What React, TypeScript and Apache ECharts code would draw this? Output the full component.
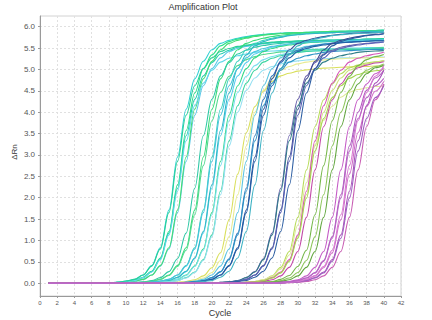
import React, { useEffect, useRef } from "react";
import * as echarts from "echarts";

// PCR cycle numbers (x values of every well)
const cycles = [
  1, 2, 3, 4, 5, 6, 7, 8, 9, 10, 11, 12, 13, 14, 15, 16, 17, 18, 19, 20,
  21, 22, 23, 24, 25, 26, 27, 28, 29, 30, 31, 32, 33, 34, 35, 36, 37, 38, 39, 40,
];

const yTickValues = [0, 0.5, 1, 1.5, 2, 2.5, 3, 3.5, 4, 4.5, 5, 5.5, 6];

// ΔRn per cycle, one array per well
const a1 = [0, 0, 0, 0, 0, 0, 0, 0.01, 0.02, 0.05, 0.09, 0.19, 0.41, 0.83, 1.71, 2.95, 4.07, 4.78, 5.19, 5.46, 5.61, 5.68, 5.73, 5.77, 5.80, 5.82, 5.84, 5.85, 5.86, 5.86, 5.87, 5.88, 5.88, 5.89, 5.89, 5.90, 5.90, 5.91, 5.91, 5.92];
const a2 = [0, 0, 0, 0, 0, 0, 0, 0, 0.02, 0.04, 0.06, 0.14, 0.28, 0.59, 1.21, 2.30, 3.57, 4.45, 5.02, 5.34, 5.55, 5.65, 5.71, 5.75, 5.79, 5.81, 5.83, 5.84, 5.85, 5.86, 5.87, 5.87, 5.88, 5.89, 5.89, 5.90, 5.90, 5.91, 5.91, 5.92];
const a3 = [0, 0, 0, 0, 0, 0, 0, 0, 0.01, 0.02, 0.05, 0.09, 0.19, 0.40, 0.80, 1.65, 2.85, 3.93, 4.62, 5.02, 5.27, 5.42, 5.49, 5.54, 5.57, 5.60, 5.62, 5.64, 5.65, 5.66, 5.67, 5.67, 5.68, 5.68, 5.69, 5.69, 5.70, 5.70, 5.71, 5.71];
const a4 = [0, 0, 0, 0, 0, 0, 0, 0, 0.02, 0.03, 0.06, 0.13, 0.27, 0.57, 1.17, 2.22, 3.45, 4.30, 4.85, 5.16, 5.36, 5.45, 5.52, 5.56, 5.59, 5.61, 5.63, 5.64, 5.65, 5.66, 5.67, 5.67, 5.68, 5.68, 5.69, 5.70, 5.70, 5.71, 5.71, 5.72];
const a5 = [0, 0, 0, 0, 0, 0, 0, 0, 0.01, 0.02, 0.05, 0.09, 0.19, 0.41, 0.83, 1.71, 2.95, 4.07, 4.78, 5.19, 5.46, 5.61, 5.68, 5.73, 5.77, 5.80, 5.82, 5.84, 5.85, 5.86, 5.86, 5.87, 5.88, 5.88, 5.89, 5.89, 5.90, 5.90, 5.91, 5.91];
const a6 = [0, 0, 0, 0, 0, 0, 0, 0, 0.02, 0.03, 0.06, 0.13, 0.26, 0.55, 1.13, 2.15, 3.33, 4.15, 4.68, 4.98, 5.17, 5.26, 5.32, 5.36, 5.40, 5.42, 5.43, 5.44, 5.45, 5.46, 5.47, 5.47, 5.48, 5.48, 5.49, 5.50, 5.50, 5.51, 5.51, 5.52];
const a7 = [0, 0, 0, 0, 0, 0, 0, 0.01, 0.02, 0.05, 0.09, 0.19, 0.40, 0.80, 1.65, 2.85, 3.93, 4.62, 5.02, 5.27, 5.42, 5.49, 5.54, 5.57, 5.60, 5.62, 5.64, 5.65, 5.66, 5.67, 5.67, 5.68, 5.68, 5.69, 5.69, 5.70, 5.70, 5.71, 5.71, 5.72];

const b1 = [0, 0, 0, 0, 0, 0, 0, 0, 0, 0, 0.01, 0.02, 0.05, 0.09, 0.19, 0.41, 0.83, 1.71, 2.95, 4.07, 4.78, 5.19, 5.46, 5.61, 5.68, 5.73, 5.77, 5.80, 5.82, 5.84, 5.85, 5.86, 5.86, 5.87, 5.88, 5.88, 5.89, 5.89, 5.90, 5.91];
const b2 = [0, 0, 0, 0, 0, 0, 0, 0, 0, 0, 0.02, 0.03, 0.06, 0.13, 0.27, 0.57, 1.17, 2.22, 3.45, 4.30, 4.85, 5.16, 5.36, 5.45, 5.52, 5.56, 5.59, 5.61, 5.63, 5.64, 5.65, 5.66, 5.67, 5.67, 5.68, 5.68, 5.69, 5.70, 5.70, 5.71];
const b3 = [0, 0, 0, 0, 0, 0, 0, 0, 0, 0, 0.01, 0.02, 0.04, 0.09, 0.18, 0.39, 0.77, 1.60, 2.75, 3.80, 4.46, 4.84, 5.09, 5.23, 5.30, 5.35, 5.38, 5.41, 5.42, 5.44, 5.45, 5.46, 5.47, 5.47, 5.48, 5.48, 5.49, 5.49, 5.50, 5.51];

const c1 = [0, 0, 0, 0, 0, 0, 0, 0, 0, 0, 0, 0.01, 0.02, 0.05, 0.09, 0.19, 0.41, 0.83, 1.71, 2.95, 4.07, 4.78, 5.19, 5.46, 5.61, 5.68, 5.73, 5.77, 5.80, 5.82, 5.84, 5.85, 5.86, 5.86, 5.87, 5.88, 5.88, 5.89, 5.89, 5.90];
const c2 = [0, 0, 0, 0, 0, 0, 0, 0, 0, 0, 0, 0, 0.02, 0.03, 0.06, 0.13, 0.27, 0.57, 1.17, 2.22, 3.45, 4.30, 4.85, 5.16, 5.36, 5.45, 5.52, 5.56, 5.59, 5.61, 5.63, 5.64, 5.65, 5.66, 5.67, 5.67, 5.68, 5.68, 5.69, 5.70];
const c3 = [0, 0, 0, 0, 0, 0, 0, 0, 0, 0, 0, 0, 0.01, 0.02, 0.05, 0.09, 0.19, 0.40, 0.80, 1.65, 2.85, 3.93, 4.62, 5.02, 5.27, 5.42, 5.49, 5.54, 5.57, 5.60, 5.62, 5.64, 5.65, 5.66, 5.67, 5.67, 5.68, 5.68, 5.69, 5.69];
const c4 = [0, 0, 0, 0, 0, 0, 0, 0, 0, 0, 0, 0, 0.02, 0.04, 0.06, 0.14, 0.28, 0.59, 1.21, 2.30, 3.57, 4.45, 5.02, 5.34, 5.55, 5.65, 5.71, 5.75, 5.79, 5.81, 5.83, 5.84, 5.85, 5.86, 5.87, 5.87, 5.88, 5.89, 5.89, 5.90];
const c5 = [0, 0, 0, 0, 0, 0, 0, 0, 0, 0, 0, 0, 0.01, 0.02, 0.04, 0.09, 0.18, 0.39, 0.77, 1.60, 2.75, 3.80, 4.46, 4.84, 5.09, 5.23, 5.30, 5.35, 5.38, 5.41, 5.42, 5.44, 5.45, 5.46, 5.47, 5.47, 5.48, 5.48, 5.49, 5.49];
const c6 = [0, 0, 0, 0, 0, 0, 0, 0, 0, 0, 0, 0, 0, 0.02, 0.03, 0.06, 0.13, 0.26, 0.55, 1.13, 2.15, 3.33, 4.15, 4.68, 4.98, 5.17, 5.26, 5.32, 5.36, 5.40, 5.42, 5.43, 5.44, 5.45, 5.46, 5.47, 5.47, 5.48, 5.48, 5.49];
const c7 = [0, 0, 0, 0, 0, 0, 0, 0, 0, 0, 0, 0.01, 0.02, 0.05, 0.09, 0.19, 0.40, 0.80, 1.65, 2.85, 3.93, 4.62, 5.02, 5.27, 5.42, 5.49, 5.54, 5.57, 5.60, 5.62, 5.64, 5.65, 5.66, 5.67, 5.67, 5.68, 5.68, 5.69, 5.69, 5.70];
const c8 = [0, 0, 0, 0, 0, 0, 0, 0, 0, 0, 0, 0, 0, 0.02, 0.03, 0.06, 0.12, 0.25, 0.53, 1.09, 2.07, 3.21, 4.00, 4.51, 4.80, 4.98, 5.07, 5.13, 5.17, 5.20, 5.22, 5.24, 5.25, 5.26, 5.27, 5.27, 5.28, 5.28, 5.29, 5.29];

const d1 = [0, 0, 0, 0, 0, 0, 0, 0, 0, 0, 0, 0, 0, 0, 0.01, 0.02, 0.04, 0.08, 0.17, 0.36, 0.71, 1.48, 2.55, 3.52, 4.13, 4.49, 4.72, 4.85, 4.91, 4.96, 4.99, 5.01, 5.03, 5.04, 5.05, 5.06, 5.07, 5.07, 5.08, 5.08];
const d2 = [0, 0, 0, 0, 0, 0, 0, 0, 0, 0, 0, 0, 0, 0, 0, 0.02, 0.03, 0.06, 0.12, 0.25, 0.53, 1.09, 2.07, 3.21, 4.00, 4.51, 4.80, 4.98, 5.07, 5.13, 5.17, 5.20, 5.22, 5.24, 5.25, 5.26, 5.27, 5.27, 5.28, 5.28];
const d3 = [0, 0, 0, 0, 0, 0, 0, 0, 0, 0, 0, 0, 0, 0, 0, 0.01, 0.02, 0.05, 0.09, 0.19, 0.40, 0.80, 1.65, 2.85, 3.93, 4.62, 5.02, 5.27, 5.42, 5.49, 5.54, 5.57, 5.60, 5.62, 5.64, 5.65, 5.66, 5.67, 5.67, 5.68];
const d4 = [0, 0, 0, 0, 0, 0, 0, 0, 0, 0, 0, 0, 0, 0, 0, 0, 0.02, 0.03, 0.06, 0.13, 0.27, 0.57, 1.17, 2.22, 3.45, 4.30, 4.85, 5.16, 5.36, 5.45, 5.52, 5.56, 5.59, 5.61, 5.63, 5.64, 5.65, 5.66, 5.67, 5.67];
const d5 = [0, 0, 0, 0, 0, 0, 0, 0, 0, 0, 0, 0, 0, 0, 0, 0, 0.01, 0.02, 0.05, 0.09, 0.19, 0.41, 0.83, 1.71, 2.95, 4.07, 4.78, 5.19, 5.46, 5.61, 5.68, 5.73, 5.77, 5.80, 5.82, 5.84, 5.85, 5.86, 5.86, 5.87];
const d6 = [0, 0, 0, 0, 0, 0, 0, 0, 0, 0, 0, 0, 0, 0, 0, 0, 0.02, 0.03, 0.06, 0.13, 0.26, 0.55, 1.13, 2.15, 3.33, 4.15, 4.68, 4.98, 5.17, 5.26, 5.32, 5.36, 5.40, 5.42, 5.43, 5.44, 5.45, 5.46, 5.47, 5.47];
const d7 = [0, 0, 0, 0, 0, 0, 0, 0, 0, 0, 0, 0, 0, 0, 0, 0, 0.01, 0.02, 0.05, 0.09, 0.19, 0.40, 0.80, 1.65, 2.85, 3.93, 4.62, 5.02, 5.27, 5.42, 5.49, 5.54, 5.57, 5.60, 5.62, 5.64, 5.65, 5.66, 5.67, 5.67];
const d8 = [0, 0, 0, 0, 0, 0, 0, 0, 0, 0, 0, 0, 0, 0, 0, 0, 0, 0.02, 0.04, 0.06, 0.14, 0.28, 0.59, 1.21, 2.30, 3.57, 4.45, 5.02, 5.34, 5.55, 5.65, 5.71, 5.75, 5.79, 5.81, 5.83, 5.84, 5.85, 5.86, 5.87];

const e1 = [0, 0, 0, 0, 0, 0, 0, 0, 0, 0, 0, 0, 0, 0, 0, 0, 0, 0, 0, 0, 0.02, 0.03, 0.06, 0.13, 0.27, 0.57, 1.17, 2.22, 3.45, 4.30, 4.85, 5.16, 5.36, 5.45, 5.52, 5.56, 5.59, 5.61, 5.63, 5.64];
const e2 = [0, 0, 0, 0, 0, 0, 0, 0, 0, 0, 0, 0, 0, 0, 0, 0, 0, 0, 0, 0, 0.01, 0.02, 0.05, 0.09, 0.19, 0.41, 0.83, 1.71, 2.95, 4.07, 4.78, 5.19, 5.46, 5.61, 5.68, 5.73, 5.77, 5.80, 5.82, 5.84];
const e3 = [0, 0, 0, 0, 0, 0, 0, 0, 0, 0, 0, 0, 0, 0, 0, 0, 0, 0, 0, 0, 0.02, 0.03, 0.06, 0.13, 0.26, 0.55, 1.13, 2.15, 3.33, 4.15, 4.68, 4.98, 5.17, 5.26, 5.32, 5.36, 5.40, 5.42, 5.43, 5.44];
const e4 = [0, 0, 0, 0, 0, 0, 0, 0, 0, 0, 0, 0, 0, 0, 0, 0, 0, 0, 0, 0, 0.01, 0.02, 0.05, 0.09, 0.19, 0.40, 0.80, 1.65, 2.85, 3.93, 4.62, 5.02, 5.27, 5.42, 5.49, 5.54, 5.57, 5.60, 5.62, 5.64];
const e5 = [0, 0, 0, 0, 0, 0, 0, 0, 0, 0, 0, 0, 0, 0, 0, 0, 0, 0, 0, 0, 0, 0.02, 0.04, 0.06, 0.14, 0.28, 0.59, 1.21, 2.30, 3.57, 4.45, 5.02, 5.34, 5.55, 5.65, 5.71, 5.75, 5.79, 5.81, 5.83];

const f1 = [0, 0, 0, 0, 0, 0, 0, 0, 0, 0, 0, 0, 0, 0, 0, 0, 0, 0, 0, 0, 0, 0, 0.01, 0.02, 0.04, 0.08, 0.17, 0.37, 0.74, 1.54, 2.65, 3.66, 4.29, 4.66, 4.90, 5.04, 5.10, 5.15, 5.18, 5.21];
const f2 = [0, 0, 0, 0, 0, 0, 0, 0, 0, 0, 0, 0, 0, 0, 0, 0, 0, 0, 0, 0, 0, 0, 0, 0.02, 0.03, 0.06, 0.12, 0.25, 0.53, 1.09, 2.07, 3.21, 4.00, 4.51, 4.80, 4.98, 5.07, 5.13, 5.17, 5.20];
const f3 = [0, 0, 0, 0, 0, 0, 0, 0, 0, 0, 0, 0, 0, 0, 0, 0, 0, 0, 0, 0, 0, 0, 0.01, 0.02, 0.04, 0.08, 0.16, 0.33, 0.66, 1.36, 2.35, 3.24, 3.81, 4.14, 4.35, 4.47, 4.53, 4.57, 4.60, 4.62];
const f4 = [0, 0, 0, 0, 0, 0, 0, 0, 0, 0, 0, 0, 0, 0, 0, 0, 0, 0, 0, 0, 0, 0, 0, 0.02, 0.03, 0.06, 0.13, 0.26, 0.55, 1.13, 2.15, 3.33, 4.15, 4.68, 4.98, 5.17, 5.26, 5.32, 5.36, 5.40];
const f5 = [0, 0, 0, 0, 0, 0, 0, 0, 0, 0, 0, 0, 0, 0, 0, 0, 0, 0, 0, 0, 0, 0, 0, 0.01, 0.02, 0.04, 0.08, 0.17, 0.37, 0.74, 1.54, 2.65, 3.66, 4.29, 4.66, 4.90, 5.04, 5.10, 5.15, 5.18];
const f6 = [0, 0, 0, 0, 0, 0, 0, 0, 0, 0, 0, 0, 0, 0, 0, 0, 0, 0, 0, 0, 0, 0, 0, 0.02, 0.03, 0.06, 0.12, 0.24, 0.51, 1.05, 1.99, 3.09, 3.85, 4.34, 4.62, 4.79, 4.88, 4.94, 4.97, 5.00];

const g1 = [0, 0, 0, 0, 0, 0, 0, 0, 0, 0, 0, 0, 0, 0, 0, 0, 0, 0, 0, 0, 0, 0, 0, 0, 0.01, 0.02, 0.04, 0.09, 0.18, 0.39, 0.77, 1.60, 2.75, 3.80, 4.46, 4.84, 5.09, 5.23, 5.30, 5.35];
const g2 = [0, 0, 0, 0, 0, 0, 0, 0, 0, 0, 0, 0, 0, 0, 0, 0, 0, 0, 0, 0, 0, 0, 0, 0, 0, 0.02, 0.03, 0.06, 0.12, 0.25, 0.53, 1.09, 2.07, 3.21, 4.00, 4.51, 4.80, 4.98, 5.07, 5.13];
const g3 = [0, 0, 0, 0, 0, 0, 0, 0, 0, 0, 0, 0, 0, 0, 0, 0, 0, 0, 0, 0, 0, 0, 0, 0, 0, 0.01, 0.02, 0.04, 0.08, 0.17, 0.37, 0.74, 1.54, 2.65, 3.66, 4.29, 4.66, 4.90, 5.04, 5.10];

const h1 = [0, 0, 0, 0, 0, 0, 0, 0, 0, 0, 0, 0, 0, 0, 0, 0, 0, 0, 0, 0, 0, 0, 0, 0, 0, 0, 0.01, 0.02, 0.04, 0.08, 0.17, 0.37, 0.74, 1.54, 2.65, 3.66, 4.29, 4.66, 4.90, 5.04];
const h2 = [0, 0, 0, 0, 0, 0, 0, 0, 0, 0, 0, 0, 0, 0, 0, 0, 0, 0, 0, 0, 0, 0, 0, 0, 0, 0, 0, 0.02, 0.03, 0.06, 0.12, 0.25, 0.53, 1.09, 2.07, 3.21, 4.00, 4.51, 4.80, 4.98];
const h3 = [0, 0, 0, 0, 0, 0, 0, 0, 0, 0, 0, 0, 0, 0, 0, 0, 0, 0, 0, 0, 0, 0, 0, 0, 0, 0, 0, 0.01, 0.02, 0.04, 0.08, 0.17, 0.36, 0.71, 1.48, 2.55, 3.52, 4.13, 4.49, 4.72];
const h4 = [0, 0, 0, 0, 0, 0, 0, 0, 0, 0, 0, 0, 0, 0, 0, 0, 0, 0, 0, 0, 0, 0, 0, 0, 0, 0, 0, 0, 0.02, 0.03, 0.06, 0.13, 0.26, 0.55, 1.13, 2.15, 3.33, 4.15, 4.68, 4.98];
const h5 = [0, 0, 0, 0, 0, 0, 0, 0, 0, 0, 0, 0, 0, 0, 0, 0, 0, 0, 0, 0, 0, 0, 0, 0, 0, 0, 0, 0, 0.01, 0.02, 0.04, 0.08, 0.17, 0.37, 0.74, 1.54, 2.65, 3.66, 4.29, 4.66];
const h6 = [0, 0, 0, 0, 0, 0, 0, 0, 0, 0, 0, 0, 0, 0, 0, 0, 0, 0, 0, 0, 0, 0, 0, 0, 0, 0, 0, 0, 0.02, 0.03, 0.06, 0.12, 0.24, 0.51, 1.05, 1.99, 3.09, 3.85, 4.34, 4.62];
const h7 = [0, 0, 0, 0, 0, 0, 0, 0, 0, 0, 0, 0, 0, 0, 0, 0, 0, 0, 0, 0, 0, 0, 0, 0, 0, 0, 0, 0.01, 0.02, 0.04, 0.09, 0.18, 0.39, 0.77, 1.60, 2.75, 3.80, 4.46, 4.84, 5.09];
const h8 = [0, 0, 0, 0, 0, 0, 0, 0, 0, 0, 0, 0, 0, 0, 0, 0, 0, 0, 0, 0, 0, 0, 0, 0, 0, 0, 0, 0.02, 0.03, 0.06, 0.12, 0.24, 0.51, 1.05, 1.99, 3.09, 3.85, 4.34, 4.62, 4.79];

const wellNames = [
  "A1", "A2", "A3", "A4", "A5", "A6", "A7",
  "B1", "B2", "B3",
  "C1", "C2", "C3", "C4", "C5", "C6", "C7", "C8",
  "D1", "D2", "D3", "D4", "D5", "D6", "D7", "D8",
  "E1", "E2", "E3", "E4", "E5",
  "F1", "F2", "F3", "F4", "F5", "F6",
  "G1", "G2", "G3",
  "H1", "H2", "H3", "H4", "H5", "H6", "H7", "H8",
];

const wellValues = [
  a1, a2, a3, a4, a5, a6, a7,
  b1, b2, b3,
  c1, c2, c3, c4, c5, c6, c7, c8,
  d1, d2, d3, d4, d5, d6, d7, d8,
  e1, e2, e3, e4, e5,
  f1, f2, f3, f4, f5, f6,
  g1, g2, g3,
  h1, h2, h3, h4, h5, h6, h7, h8,
];

const wellColors = [
  "#33d0d4", "#2ee08a", "#5cc8e8", "#24ccb0", "#44dc74", "#62d8ea", "#28d098",
  "#36dc78", "#30c8a6", "#52d890",
  "#3cd0c0", "#58cdee", "#32d886", "#2eb8c4", "#7adfee", "#3cd4a0", "#48c4de", "#96e0f2",
  "#d9df5c", "#e8eb92", "#5cc4e0", "#2f78bb", "#34509a", "#2c93c6", "#1e5fa6", "#3fb3c4",
  "#6b62ad", "#3c4a90", "#2f7d88", "#5a62b8", "#2d5ea2",
  "#b7dc5a", "#cde37a", "#dfe89a", "#d556b8", "#c24aa8", "#a6d54e",
  "#76b84a", "#8ec65c", "#62a63f",
  "#c55dc7", "#b15abf", "#d06ec9", "#a955b9", "#c95fb4", "#9f5fc2", "#d77ad2", "#b866c6",
];

const FONT = "'Liberation Sans', Arial, sans-serif";

export default function App() {
  const ref = useRef<HTMLDivElement>(null);

  useEffect(() => {
    if (!ref.current) return;
    const chart = echarts.init(ref.current, undefined, { renderer: "svg" });

    const series = wellValues.map((vals, i) => ({
      name: wellNames[i],
      type: "line",
      data: vals.map((v, j) => [cycles[j], v]),
      symbol: "none",
      showSymbol: false,
      smooth: 0.35,
      smoothMonotone: "x",
      silent: true,
      lineStyle: { color: wellColors[i], width: 1.1 },
      itemStyle: { color: wellColors[i] },
    }));

    chart.setOption({
      animation: false,
      backgroundColor: "#ffffff",
      textStyle: { fontFamily: FONT },
      grid: {
        left: 40,
        right: 31,
        top: 16,
        bottom: 24,
        show: true,
        borderColor: "#d2d2d2",
        borderWidth: 1,
        backgroundColor: "transparent",
      },
      xAxis: {
        type: "value",
        min: 0,
        max: 42,
        interval: 2,
        axisLine: { show: true, onZero: false, lineStyle: { color: "#9a9a9a", width: 1 } },
        axisTick: { show: true, length: 2, lineStyle: { color: "#9a9a9a" } },
        axisLabel: { fontSize: 6, color: "#555", margin: 4, fontFamily: FONT },
        splitLine: { show: true, lineStyle: { color: "#e0e0e0", type: [2, 2], width: 1 } },
      },
      yAxis: {
        type: "value",
        min: -0.3,
        max: 6.25,
        axisLine: { show: true, onZero: false, lineStyle: { color: "#9a9a9a", width: 1 } },
        axisTick: { show: true, length: 2, customValues: yTickValues, lineStyle: { color: "#9a9a9a" } },
        axisLabel: {
          customValues: yTickValues,
          formatter: (v: number) => v.toFixed(1),
          fontSize: 8,
          color: "#555",
          margin: 5,
          fontFamily: FONT,
        },
        splitLine: { show: true, lineStyle: { color: "#e0e0e0", type: [2, 2], width: 1 } },
      },
      graphic: [
        {
          type: "text",
          x: 203,
          y: 7,
          style: {
            text: "Amplification Plot",
            fill: "#333",
            font: `9px ${FONT}`,
            textAlign: "center",
            textVerticalAlign: "middle",
            verticalAlign: "middle",
          },
        },
        {
          type: "text",
          x: 220,
          y: 313,
          style: {
            text: "Cycle",
            fill: "#333",
            font: `9px ${FONT}`,
            textAlign: "center",
            textVerticalAlign: "middle",
            verticalAlign: "middle",
          },
        },
        {
          type: "text",
          x: 14,
          y: 152,
          rotation: Math.PI / 2,
          style: {
            text: "ΔRn",
            fill: "#333",
            font: `8px ${FONT}`,
            textAlign: "center",
            textVerticalAlign: "middle",
            verticalAlign: "middle",
          },
        },
      ],
      series,
    });

    return () => chart.dispose();
  }, []);

  return (
    <div
      ref={ref}
      style={{ position: "absolute", left: 0, top: 0, width: 432, height: 320 }}
    />
  );
}
